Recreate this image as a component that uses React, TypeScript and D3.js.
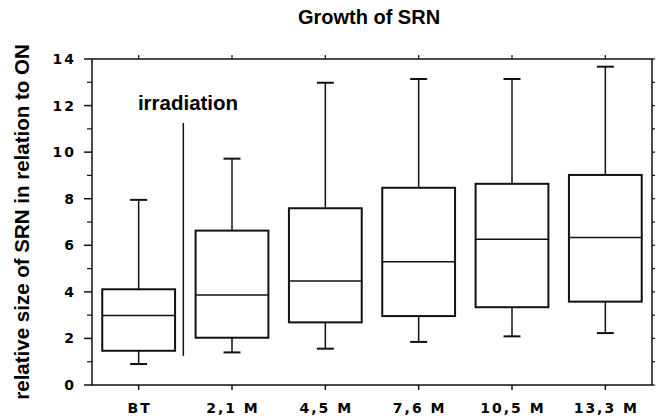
import React, { useRef, useEffect } from 'react';
import * as d3 from 'd3';

// time points after irradiation (BT = before treatment)
const categories = ['BT', '2,1 M', '4,5 M', '7,6 M', '10,5 M', '13,3 M'];
const whiskerLow = [0.9, 1.4, 1.56, 1.85, 2.09, 2.23];
const q1 = [1.47, 2.03, 2.69, 2.96, 3.34, 3.58];
const median = [2.98, 3.86, 4.47, 5.29, 6.26, 6.33];
const q3 = [4.11, 6.63, 7.59, 8.47, 8.64, 9.02];
const whiskerHigh = [7.95, 9.72, 12.98, 13.14, 13.14, 13.67];
const yTicks = [0, 2, 4, 6, 8, 10, 12, 14];
const yMinorTicks = [1, 3, 5, 7, 9, 11, 13];
const irradiationRange = [1.25, 11.25];

const W = 657;
const H = 420;

const App = () => {
  const svgRef = useRef<SVGSVGElement>(null);

  useEffect(() => {
    const svg = d3.select(svgRef.current);
    svg.selectAll('*').remove();

    const margin = { top: 59, right: 5, bottom: 35, left: 92 };
    const plotW = W - margin.left - margin.right;

    const x = d3.scaleBand().domain(categories).range([margin.left, margin.left + plotW]).padding(0);
    const y = d3.scaleLinear().domain([0, 14]).range([385, 59]);

    const data = categories.map((c, i) => ({
      c, lo: whiskerLow[i], q1: q1[i], med: median[i], q3: q3[i], hi: whiskerHigh[i],
    }));

    const boxW = x.bandwidth() * 0.78;
    const capW = 17;
    const cx = (c: string) => (x(c) as number) + x.bandwidth() / 2;
    const font = "'Liberation Sans', Arial, sans-serif";
    const tickFont = "'DejaVu Sans', sans-serif";

    // frame
    svg.append('rect')
      .attr('x', margin.left).attr('y', y(14))
      .attr('width', plotW).attr('height', y(0) - y(14))
      .attr('fill', 'none').attr('stroke', '#111').attr('stroke-width', 1.5);

    // left axis
    const left = svg.append('g');
    left.selectAll('line.maj').data(yTicks).enter().append('line')
      .attr('x1', margin.left - 8).attr('x2', margin.left)
      .attr('y1', d => y(d)).attr('y2', d => y(d))
      .attr('stroke', '#111').attr('stroke-width', 1.5);
    left.selectAll('line.min').data(yMinorTicks).enter().append('line')
      .attr('x1', margin.left - 5).attr('x2', margin.left)
      .attr('y1', d => y(d)).attr('y2', d => y(d))
      .attr('stroke', '#111').attr('stroke-width', 1.2);
    left.selectAll('text').data(yTicks).enter().append('text')
      .attr('x', 76).attr('y', d => y(d) + 5)
      .attr('text-anchor', 'end')
      .attr('font-family', tickFont).attr('font-weight', 'bold').attr('font-size', 14)
      .attr('letter-spacing', 2)
      .text(d => d);

    // right axis minor ticks
    svg.append('g').selectAll('line').data(d3.range(0, 15)).enter().append('line')
      .attr('x1', margin.left + plotW).attr('x2', margin.left + plotW + 3)
      .attr('y1', d => y(d)).attr('y2', d => y(d))
      .attr('stroke', '#111').attr('stroke-width', 1.2);

    // top and bottom ticks at categories
    svg.append('g').selectAll('line').data(categories).enter().append('line')
      .attr('x1', d => cx(d)).attr('x2', d => cx(d))
      .attr('y1', y(14) - 4).attr('y2', y(14))
      .attr('stroke', '#111').attr('stroke-width', 1.2);
    svg.append('g').selectAll('line').data(categories).enter().append('line')
      .attr('x1', d => cx(d)).attr('x2', d => cx(d))
      .attr('y1', y(0)).attr('y2', y(0) + 5)
      .attr('stroke', '#111').attr('stroke-width', 1.5);
    svg.append('g').selectAll('text').data(categories).enter().append('text')
      .attr('x', d => cx(d) + 1).attr('y', 413)
      .attr('text-anchor', 'middle')
      .attr('font-family', tickFont).attr('font-weight', 'bold').attr('font-size', 14)
      .attr('letter-spacing', 2)
      .text(d => d);

    // boxes
    const g = svg.append('g').attr('stroke', '#111').attr('fill', 'none');
    data.forEach(d => {
      const c = cx(d.c);
      g.append('line').attr('x1', c).attr('x2', c).attr('y1', y(d.hi)).attr('y2', y(d.q3)).attr('stroke-width', 1.5);
      g.append('line').attr('x1', c).attr('x2', c).attr('y1', y(d.q1)).attr('y2', y(d.lo)).attr('stroke-width', 1.5);
      g.append('line').attr('x1', c - capW / 2).attr('x2', c + capW / 2).attr('y1', y(d.hi)).attr('y2', y(d.hi)).attr('stroke-width', 2);
      g.append('line').attr('x1', c - capW / 2).attr('x2', c + capW / 2).attr('y1', y(d.lo)).attr('y2', y(d.lo)).attr('stroke-width', 2);
      g.append('rect')
        .attr('x', c - boxW / 2).attr('y', y(d.q3))
        .attr('width', boxW).attr('height', y(d.q1) - y(d.q3))
        .attr('fill', '#fff').attr('stroke-width', 2);
      g.append('line').attr('x1', c - boxW / 2).attr('x2', c + boxW / 2).attr('y1', y(d.med)).attr('y2', y(d.med)).attr('stroke-width', 1.5);
    });

    // irradiation marker, just left of the first post-irradiation band
    const ix = (x('2,1 M') as number) - 2;
    svg.append('line')
      .attr('x1', ix).attr('x2', ix)
      .attr('y1', y(irradiationRange[0])).attr('y2', y(irradiationRange[1]))
      .attr('stroke', '#111').attr('stroke-width', 1.5);
    svg.append('text')
      .attr('x', 188).attr('y', 110)
      .attr('text-anchor', 'middle')
      .attr('font-family', font).attr('font-weight', 'bold').attr('font-size', 20.5)
      .text('irradiation');

    // title
    svg.append('text')
      .attr('x', 369).attr('y', 24)
      .attr('text-anchor', 'middle')
      .attr('font-family', font).attr('font-weight', 'bold').attr('font-size', 20)
      .text('Growth of SRN');

    // y label
    svg.append('text')
      .attr('transform', `translate(29, 222) rotate(-90)`)
      .attr('text-anchor', 'middle')
      .attr('font-family', font).attr('font-weight', 'bold').attr('font-size', 20.5)
      .text('relative size of SRN in relation to ON');
  }, []);

  return (
    <svg ref={svgRef} width={W} height={H} style={{ position: 'absolute', left: 0, top: 0, background: '#fff' }} />
  );
};

export default App;
